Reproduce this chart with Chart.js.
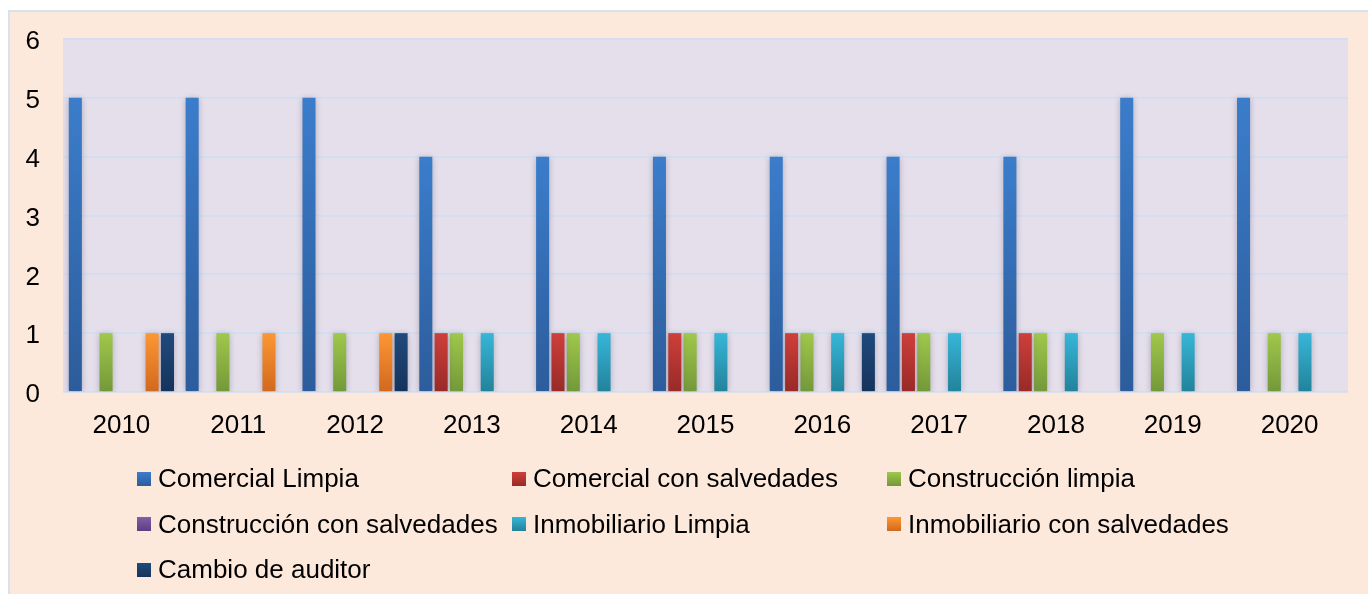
<!DOCTYPE html>
<html>
<head>
<meta charset="utf-8">
<script src="https://cdn.jsdelivr.net/npm/chart.js@4.4.1/dist/chart.umd.min.js"></script>
<style>
  html, body { margin: 0; padding: 0; background: #fff; }
  body { width: 1368px; height: 594px; position: relative; overflow: hidden; font-family: Arial, "Liberation Sans", sans-serif; }
  #frame { position: absolute; left: 8px; top: 10px; width: 1400px; height: 700px; background: #fde9dc; border-top: 2px solid #d6e2ef; border-left: 2px solid #d6e2ef; }
  #chart { position: absolute; left: 0; top: 0; }
  #legend { position: absolute; left: 137px; top: 456px; display: grid; grid-template-columns: 375px 375px 375px; row-gap: 0; }
  .item { display: flex; align-items: center; height: 45.5px; font-size: 26px; color: #000; white-space: nowrap; }
  .box { width: 14px; height: 14px; margin-right: 7px; flex: none; }
</style>
</head>
<body>
<div id="frame"></div>
<canvas id="chart" width="1368" height="594"></canvas>
<div id="legend"></div>
<script>
// Categories and series
const years = ["2010", "2011", "2012", "2013", "2014", "2015", "2016", "2017", "2018", "2019", "2020"];
const comercialLimpia = [5, 5, 5, 4, 4, 4, 4, 4, 4, 5, 5];
const comercialSalvedades = [0, 0, 0, 1, 1, 1, 1, 1, 1, 0, 0];
const construccionLimpia = [1, 1, 1, 1, 1, 1, 1, 1, 1, 1, 1];
const construccionSalvedades = [0, 0, 0, 0, 0, 0, 0, 0, 0, 0, 0];
const inmobiliarioLimpia = [0, 0, 0, 1, 1, 1, 1, 1, 1, 1, 1];
const inmobiliarioSalvedades = [1, 1, 1, 0, 0, 0, 0, 0, 0, 0, 0];
const cambioAuditor = [1, 0, 1, 0, 0, 0, 1, 0, 0, 0, 0];
const yTicks = [0, 1, 2, 3, 4, 5, 6];

// top / bottom colours of each bar's gradient
const shades = [
    ["#3b7dcb", "#2c5c9b"],
    ["#cf3f3a", "#982a27"],
    ["#9fc84b", "#739839"],
    ["#8060a8", "#5c3f80"],
    ["#37b6d8", "#22829a"],
    ["#fd9733", "#d1681e"],
    ["#1f4a7d", "#15335b"]
];

function barFill(i) {
    return function (ctx) {
        const chart = ctx.chart;
        if (!chart.chartArea || ctx.type !== "data" || !ctx.parsed) return shades[i][0];
        const y = chart.scales.y;
        const top = y.getPixelForValue(ctx.parsed.y);
        const bottom = y.getPixelForValue(0);
        if (top === bottom) return shades[i][0];
        const g = chart.ctx.createLinearGradient(0, top, 0, bottom);
        g.addColorStop(0, shades[i][0]);
        g.addColorStop(1, shades[i][1]);
        return g;
    };
}

const series = [
    ["Comercial Limpia", comercialLimpia],
    ["Comercial con salvedades", comercialSalvedades],
    ["Construcción limpia", construccionLimpia],
    ["Construcción con salvedades", construccionSalvedades],
    ["Inmobiliario Limpia", inmobiliarioLimpia],
    ["Inmobiliario con salvedades", inmobiliarioSalvedades],
    ["Cambio de auditor", cambioAuditor]
];

const plotBg = {
    id: "plotBg",
    beforeDraw(chart) {
        const a = chart.chartArea;
        chart.ctx.save();
        chart.ctx.fillStyle = "#e4dfeb";
        chart.ctx.fillRect(a.left, a.top, a.right - a.left, a.bottom - a.top);
        chart.ctx.restore();
    }
};

const barShadow = {
    id: "barShadow",
    beforeDatasetsDraw(chart) {
        const c = chart.ctx;
        c.save();
        c.shadowColor = "rgba(70, 60, 90, 0.35)";
        c.shadowBlur = 6;
        c.shadowOffsetX = 0;
        c.shadowOffsetY = 1;
    },
    afterDatasetsDraw(chart) {
        chart.ctx.restore();
    }
};

const chart = new Chart(document.getElementById("chart"), {
    type: "bar",
    data: {
        labels: years,
        datasets: series.map((s, i) => ({
            label: s[0],
            data: s[1],
            backgroundColor: barFill(i),
            borderWidth: 0,
            categoryPercentage: 0.92,
            barPercentage: 0.85
        }))
    },
    options: {
        responsive: false,
        animation: false,
        layout: { padding: { left: 0, top: 39, right: 20, bottom: 142 } },
        plugins: {
            legend: { display: false },
            tooltip: { enabled: false }
        },
        scales: {
            x: {
                grid: { display: false, drawTicks: false },
                border: { display: false },
                ticks: { color: "#000", font: { family: "Arial, 'Liberation Sans'", size: 26 }, padding: 18, maxRotation: 0 },
                afterFit(s) { s.height = 60; }
            },
            y: {
                min: 0,
                max: 6,
                afterBuildTicks(s) { s.ticks = yTicks.map(v => ({ value: v })); },
                grid: { color: "#d1dff0", lineWidth: 1.8, drawTicks: false },
                border: { display: false },
                ticks: { color: "#000", font: { family: "Arial, 'Liberation Sans'", size: 26 }, padding: 23, labelOffset: 3 },
                afterFit(s) { s.width = 63; }
            }
        }
    },
    plugins: [plotBg, barShadow]
});

// HTML legend in three columns
const legend = document.getElementById("legend");
chart.data.datasets.forEach((ds, i) => {
    const item = document.createElement("div");
    item.className = "item";
    const box = document.createElement("span");
    box.className = "box";
    box.style.background = "linear-gradient(" + shades[i][0] + ", " + shades[i][1] + ")";
    const txt = document.createElement("span");
    txt.textContent = ds.label;
    item.appendChild(box);
    item.appendChild(txt);
    legend.appendChild(item);
});
</script>
</body>
</html>
